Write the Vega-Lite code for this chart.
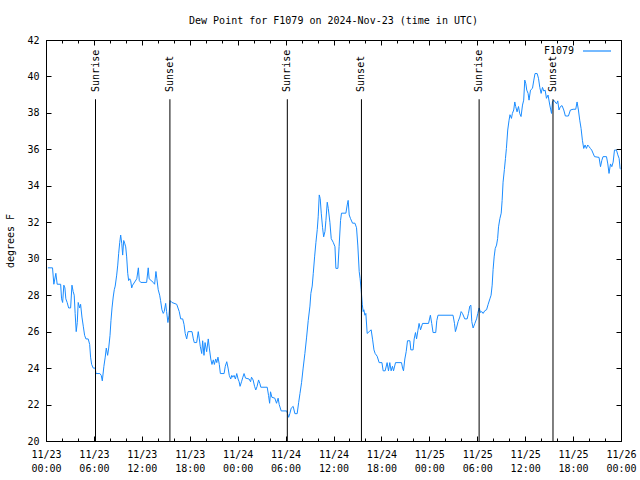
{
"$schema": "https://vega.github.io/schema/vega-lite/v6.json",
"width": 575,
"height": 401,
"autosize": {"type": "none"},
"padding": {"left": 46, "top": 40, "right": 19, "bottom": 39},
"background": "white",
"title": {"text": "Dew Point for F1079 on 2024-Nov-23 (time in UTC)", "font": "DejaVu Sans Mono", "fontSize": 10, "fontWeight": "normal", "color": "black", "offset": 9},
"config": {"view": {"stroke": "black", "strokeWidth": 1}},
"datasets": {
"sun": [
{"t":"2024-11-23T06:12:00Z","event":"Sunrise"},
{"t":"2024-11-23T15:31:00Z","event":"Sunset"},
{"t":"2024-11-24T06:13:00Z","event":"Sunrise"},
{"t":"2024-11-24T15:30:00Z","event":"Sunset"},
{"t":"2024-11-25T06:14:00Z","event":"Sunrise"},
{"t":"2024-11-25T15:29:00Z","event":"Sunset"}
],
"dew": [
{"t":"2024-11-23T00:14:00Z","v":29.5},{"t":"2024-11-23T00:49:00Z","v":29.5},{"t":"2024-11-23T00:59:00Z","v":28.6},{"t":"2024-11-23T01:14:00Z","v":29.2},{"t":"2024-11-23T01:24:00Z","v":28.6},{"t":"2024-11-23T01:50:00Z","v":28.6},{"t":"2024-11-23T01:57:00Z","v":27.8},{"t":"2024-11-23T02:05:00Z","v":27.6},{"t":"2024-11-23T02:14:00Z","v":28.55},{"t":"2024-11-23T02:22:00Z","v":28.4},{"t":"2024-11-23T02:29:00Z","v":27.8},{"t":"2024-11-23T02:39:00Z","v":27.6},{"t":"2024-11-23T02:50:00Z","v":27.3},{"t":"2024-11-23T03:05:00Z","v":27.3},{"t":"2024-11-23T03:15:00Z","v":28.55},{"t":"2024-11-23T03:24:00Z","v":28.2},{"t":"2024-11-23T03:32:00Z","v":28.0},{"t":"2024-11-23T03:39:00Z","v":27.0},{"t":"2024-11-23T03:47:00Z","v":26.0},{"t":"2024-11-23T03:55:00Z","v":26.5},{"t":"2024-11-23T04:02:00Z","v":27.6},{"t":"2024-11-23T04:13:00Z","v":27.3},{"t":"2024-11-23T04:20:00Z","v":27.5},{"t":"2024-11-23T04:30:00Z","v":26.8},{"t":"2024-11-23T04:40:00Z","v":26.3},{"t":"2024-11-23T04:50:00Z","v":25.8},{"t":"2024-11-23T05:00:00Z","v":25.6},{"t":"2024-11-23T05:17:00Z","v":25.6},{"t":"2024-11-23T05:28:00Z","v":25.3},{"t":"2024-11-23T05:35:00Z","v":24.6},{"t":"2024-11-23T05:43:00Z","v":24.2},{"t":"2024-11-23T05:55:00Z","v":24.0},{"t":"2024-11-23T06:10:00Z","v":24.0},{"t":"2024-11-23T06:15:00Z","v":23.7},{"t":"2024-11-23T06:45:00Z","v":23.7},{"t":"2024-11-23T06:55:00Z","v":23.6},{"t":"2024-11-23T07:03:00Z","v":23.3},{"t":"2024-11-23T07:15:00Z","v":24.1},{"t":"2024-11-23T07:25:00Z","v":24.6},{"t":"2024-11-23T07:33:00Z","v":25.1},{"t":"2024-11-23T07:43:00Z","v":24.7},{"t":"2024-11-23T07:51:00Z","v":25.1},{"t":"2024-11-23T08:01:00Z","v":25.8},{"t":"2024-11-23T08:08:00Z","v":26.6},{"t":"2024-11-23T08:16:00Z","v":27.3},{"t":"2024-11-23T08:25:00Z","v":27.9},{"t":"2024-11-23T08:33:00Z","v":28.3},{"t":"2024-11-23T08:40:00Z","v":28.5},{"t":"2024-11-23T08:51:00Z","v":29.1},{"t":"2024-11-23T08:59:00Z","v":29.65},{"t":"2024-11-23T09:06:00Z","v":30.3},{"t":"2024-11-23T09:14:00Z","v":30.9},{"t":"2024-11-23T09:21:00Z","v":31.3},{"t":"2024-11-23T09:29:00Z","v":30.85},{"t":"2024-11-23T09:36:00Z","v":30.2},{"t":"2024-11-23T09:44:00Z","v":31.0},{"t":"2024-11-23T09:51:00Z","v":30.85},{"t":"2024-11-23T09:59:00Z","v":30.65},{"t":"2024-11-23T10:06:00Z","v":30.1},{"t":"2024-11-23T10:14:00Z","v":29.2},{"t":"2024-11-23T10:21:00Z","v":28.8},{"t":"2024-11-23T10:29:00Z","v":28.9},{"t":"2024-11-23T10:36:00Z","v":28.8},{"t":"2024-11-23T10:44:00Z","v":28.4},{"t":"2024-11-23T10:51:00Z","v":28.55},{"t":"2024-11-23T11:22:00Z","v":28.9},{"t":"2024-11-23T11:34:00Z","v":29.5},{"t":"2024-11-23T11:41:00Z","v":28.8},{"t":"2024-11-23T11:52:00Z","v":28.7},{"t":"2024-11-23T12:36:00Z","v":28.7},{"t":"2024-11-23T12:48:00Z","v":29.5},{"t":"2024-11-23T12:55:00Z","v":28.9},{"t":"2024-11-23T13:26:00Z","v":28.7},{"t":"2024-11-23T13:36:00Z","v":28.6},{"t":"2024-11-23T13:46:00Z","v":29.3},{"t":"2024-11-23T13:53:00Z","v":28.9},{"t":"2024-11-23T14:03:00Z","v":28.3},{"t":"2024-11-23T14:14:00Z","v":28.0},{"t":"2024-11-23T14:21:00Z","v":27.7},{"t":"2024-11-23T14:31:00Z","v":27.2},{"t":"2024-11-23T14:41:00Z","v":27.0},{"t":"2024-11-23T14:48:00Z","v":27.1},{"t":"2024-11-23T14:59:00Z","v":27.55},{"t":"2024-11-23T15:06:00Z","v":27.1},{"t":"2024-11-23T15:16:00Z","v":26.5},{"t":"2024-11-23T15:24:00Z","v":26.9},{"t":"2024-11-23T15:33:00Z","v":27.7},{"t":"2024-11-23T15:46:00Z","v":27.6},{"t":"2024-11-23T16:22:00Z","v":27.5},{"t":"2024-11-23T16:41:00Z","v":27.1},{"t":"2024-11-23T16:52:00Z","v":26.7},{"t":"2024-11-23T17:07:00Z","v":26.7},{"t":"2024-11-23T17:17:00Z","v":26.4},{"t":"2024-11-23T17:26:00Z","v":25.9},{"t":"2024-11-23T17:37:00Z","v":25.6},{"t":"2024-11-23T17:47:00Z","v":26.0},{"t":"2024-11-23T18:17:00Z","v":26.0},{"t":"2024-11-23T18:27:00Z","v":25.6},{"t":"2024-11-23T18:34:00Z","v":25.4},{"t":"2024-11-23T18:52:00Z","v":25.4},{"t":"2024-11-23T19:04:00Z","v":26.0},{"t":"2024-11-23T19:12:00Z","v":25.6},{"t":"2024-11-23T19:19:00Z","v":25.2},{"t":"2024-11-23T19:30:00Z","v":24.8},{"t":"2024-11-23T19:37:00Z","v":25.5},{"t":"2024-11-23T19:47:00Z","v":24.7},{"t":"2024-11-23T19:55:00Z","v":25.4},{"t":"2024-11-23T20:07:00Z","v":24.9},{"t":"2024-11-23T20:19:00Z","v":25.6},{"t":"2024-11-23T20:27:00Z","v":25.1},{"t":"2024-11-23T20:38:00Z","v":24.5},{"t":"2024-11-23T20:47:00Z","v":24.2},{"t":"2024-11-23T20:57:00Z","v":24.45},{"t":"2024-11-23T21:05:00Z","v":24.2},{"t":"2024-11-23T21:15:00Z","v":24.5},{"t":"2024-11-23T21:23:00Z","v":24.3},{"t":"2024-11-23T21:32:00Z","v":24.6},{"t":"2024-11-23T21:42:00Z","v":24.2},{"t":"2024-11-23T21:50:00Z","v":23.7},{"t":"2024-11-23T22:18:00Z","v":23.7},{"t":"2024-11-23T22:27:00Z","v":24.1},{"t":"2024-11-23T22:38:00Z","v":24.35},{"t":"2024-11-23T22:48:00Z","v":24.0},{"t":"2024-11-23T22:57:00Z","v":23.6},{"t":"2024-11-23T23:08:00Z","v":23.4},{"t":"2024-11-23T23:16:00Z","v":23.6},{"t":"2024-11-23T23:23:00Z","v":23.5},{"t":"2024-11-23T23:33:00Z","v":23.6},{"t":"2024-11-23T23:43:00Z","v":23.4},{"t":"2024-11-23T23:53:00Z","v":23.7},
{"t":"2024-11-24T00:03:00Z","v":23.4},{"t":"2024-11-24T00:11:00Z","v":23.25},{"t":"2024-11-24T00:18:00Z","v":23.0},{"t":"2024-11-24T00:29:00Z","v":23.25},{"t":"2024-11-24T00:39:00Z","v":23.5},{"t":"2024-11-24T00:48:00Z","v":23.7},{"t":"2024-11-24T00:59:00Z","v":23.45},{"t":"2024-11-24T01:26:00Z","v":23.4},{"t":"2024-11-24T01:37:00Z","v":23.25},{"t":"2024-11-24T01:44:00Z","v":23.5},{"t":"2024-11-24T01:56:00Z","v":23.35},{"t":"2024-11-24T02:07:00Z","v":23.0},{"t":"2024-11-24T02:16:00Z","v":22.8},{"t":"2024-11-24T02:26:00Z","v":23.0},{"t":"2024-11-24T02:37:00Z","v":23.35},{"t":"2024-11-24T02:47:00Z","v":23.15},{"t":"2024-11-24T02:54:00Z","v":22.95},{"t":"2024-11-24T03:42:00Z","v":22.95},{"t":"2024-11-24T03:52:00Z","v":22.5},{"t":"2024-11-24T04:00:00Z","v":22.07},{"t":"2024-11-24T04:07:00Z","v":22.7},{"t":"2024-11-24T04:17:00Z","v":22.4},{"t":"2024-11-24T04:39:00Z","v":22.35},{"t":"2024-11-24T04:52:00Z","v":22.07},{"t":"2024-11-24T05:04:00Z","v":22.35},{"t":"2024-11-24T05:12:00Z","v":22.0},{"t":"2024-11-24T05:27:00Z","v":21.65},{"t":"2024-11-24T06:08:00Z","v":21.65},{"t":"2024-11-24T06:15:00Z","v":21.5},{"t":"2024-11-24T06:23:00Z","v":21.3},{"t":"2024-11-24T06:32:00Z","v":21.5},{"t":"2024-11-24T06:42:00Z","v":21.8},{"t":"2024-11-24T06:57:00Z","v":21.9},{"t":"2024-11-24T07:10:00Z","v":21.5},{"t":"2024-11-24T07:27:00Z","v":21.5},{"t":"2024-11-24T07:38:00Z","v":22.1},{"t":"2024-11-24T07:48:00Z","v":22.6},{"t":"2024-11-24T08:00:00Z","v":23.2},{"t":"2024-11-24T08:12:00Z","v":24.0},{"t":"2024-11-24T08:25:00Z","v":24.8},{"t":"2024-11-24T08:38:00Z","v":25.7},{"t":"2024-11-24T08:50:00Z","v":26.6},{"t":"2024-11-24T09:03:00Z","v":27.4},{"t":"2024-11-24T09:10:00Z","v":28.1},{"t":"2024-11-24T09:20:00Z","v":28.5},{"t":"2024-11-24T09:28:00Z","v":29.2},{"t":"2024-11-24T09:38:00Z","v":30.1},{"t":"2024-11-24T09:48:00Z","v":30.9},{"t":"2024-11-24T09:58:00Z","v":31.6},{"t":"2024-11-24T10:05:00Z","v":32.3},{"t":"2024-11-24T10:13:00Z","v":33.5},{"t":"2024-11-24T10:20:00Z","v":33.3},{"t":"2024-11-24T10:28:00Z","v":32.5},{"t":"2024-11-24T10:38:00Z","v":31.7},{"t":"2024-11-24T10:46:00Z","v":31.2},{"t":"2024-11-24T10:56:00Z","v":31.5},{"t":"2024-11-24T11:03:00Z","v":32.1},{"t":"2024-11-24T11:13:00Z","v":33.1},{"t":"2024-11-24T11:21:00Z","v":32.75},{"t":"2024-11-24T11:33:00Z","v":32.0},{"t":"2024-11-24T11:43:00Z","v":31.1},{"t":"2024-11-24T11:58:00Z","v":30.9},{"t":"2024-11-24T12:11:00Z","v":30.66},{"t":"2024-11-24T12:18:00Z","v":29.47},{"t":"2024-11-24T12:33:00Z","v":29.47},{"t":"2024-11-24T12:42:00Z","v":30.66},{"t":"2024-11-24T12:53:00Z","v":32.1},{"t":"2024-11-24T13:00:00Z","v":32.5},{"t":"2024-11-24T13:33:00Z","v":32.5},{"t":"2024-11-24T13:43:00Z","v":32.95},{"t":"2024-11-24T13:50:00Z","v":33.2},{"t":"2024-11-24T13:58:00Z","v":32.4},{"t":"2024-11-24T14:08:00Z","v":32.2},{"t":"2024-11-24T14:23:00Z","v":31.95},{"t":"2024-11-24T14:41:00Z","v":31.95},{"t":"2024-11-24T14:53:00Z","v":31.7},{"t":"2024-11-24T15:03:00Z","v":30.7},{"t":"2024-11-24T15:13:00Z","v":29.3},{"t":"2024-11-24T15:20:00Z","v":28.9},{"t":"2024-11-24T15:28:00Z","v":28.3},{"t":"2024-11-24T15:36:00Z","v":27.5},{"t":"2024-11-24T15:43:00Z","v":27.1},{"t":"2024-11-24T15:48:00Z","v":27.2},{"t":"2024-11-24T15:56:00Z","v":26.9},{"t":"2024-11-24T16:03:00Z","v":27.0},{"t":"2024-11-24T16:13:00Z","v":25.9},{"t":"2024-11-24T16:28:00Z","v":26.0},{"t":"2024-11-24T16:43:00Z","v":26.1},{"t":"2024-11-24T16:54:00Z","v":25.55},{"t":"2024-11-24T17:04:00Z","v":25.0},{"t":"2024-11-24T17:13:00Z","v":24.8},{"t":"2024-11-24T17:28:00Z","v":24.65},{"t":"2024-11-24T17:43:00Z","v":24.3},{"t":"2024-11-24T18:04:00Z","v":24.3},{"t":"2024-11-24T18:13:00Z","v":23.85},{"t":"2024-11-24T18:28:00Z","v":23.85},{"t":"2024-11-24T18:43:00Z","v":24.3},{"t":"2024-11-24T18:53:00Z","v":23.85},{"t":"2024-11-24T19:03:00Z","v":24.3},{"t":"2024-11-24T19:13:00Z","v":23.85},{"t":"2024-11-24T19:23:00Z","v":24.1},{"t":"2024-11-24T19:31:00Z","v":23.85},{"t":"2024-11-24T19:46:00Z","v":24.3},{"t":"2024-11-24T20:31:00Z","v":24.3},{"t":"2024-11-24T20:39:00Z","v":24.0},{"t":"2024-11-24T20:46:00Z","v":23.85},{"t":"2024-11-24T20:56:00Z","v":24.5},{"t":"2024-11-24T21:06:00Z","v":24.9},{"t":"2024-11-24T21:16:00Z","v":25.5},{"t":"2024-11-24T21:34:00Z","v":25.5},{"t":"2024-11-24T21:41:00Z","v":25.0},{"t":"2024-11-24T21:58:00Z","v":25.0},{"t":"2024-11-24T22:06:00Z","v":25.6},{"t":"2024-11-24T22:16:00Z","v":25.95},{"t":"2024-11-24T22:24:00Z","v":25.6},{"t":"2024-11-24T22:34:00Z","v":26.05},{"t":"2024-11-24T22:43:00Z","v":26.45},{"t":"2024-11-24T22:54:00Z","v":26.1},{"t":"2024-11-24T23:09:00Z","v":26.45},{"t":"2024-11-24T23:54:00Z","v":26.45},
{"t":"2024-11-25T00:08:00Z","v":26.9},{"t":"2024-11-25T00:18:00Z","v":26.45},{"t":"2024-11-25T00:28:00Z","v":25.95},{"t":"2024-11-25T00:48:00Z","v":25.95},{"t":"2024-11-25T00:56:00Z","v":26.6},{"t":"2024-11-25T01:05:00Z","v":26.9},{"t":"2024-11-25T02:58:00Z","v":26.9},{"t":"2024-11-25T03:09:00Z","v":26.45},{"t":"2024-11-25T03:16:00Z","v":26.0},{"t":"2024-11-25T03:24:00Z","v":26.2},{"t":"2024-11-25T03:36:00Z","v":26.55},{"t":"2024-11-25T03:49:00Z","v":26.8},{"t":"2024-11-25T03:59:00Z","v":27.1},{"t":"2024-11-25T04:09:00Z","v":27.0},{"t":"2024-11-25T04:26:00Z","v":26.7},{"t":"2024-11-25T04:44:00Z","v":26.7},{"t":"2024-11-25T04:54:00Z","v":27.0},{"t":"2024-11-25T05:04:00Z","v":27.4},{"t":"2024-11-25T05:12:00Z","v":27.45},{"t":"2024-11-25T05:19:00Z","v":26.55},{"t":"2024-11-25T05:29:00Z","v":26.2},{"t":"2024-11-25T05:42:00Z","v":26.45},{"t":"2024-11-25T05:55:00Z","v":26.7},{"t":"2024-11-25T06:04:00Z","v":27.0},{"t":"2024-11-25T06:14:00Z","v":27.3},{"t":"2024-11-25T06:25:00Z","v":27.05},{"t":"2024-11-25T06:34:00Z","v":27.1},{"t":"2024-11-25T06:44:00Z","v":27.0},{"t":"2024-11-25T06:57:00Z","v":27.15},{"t":"2024-11-25T07:10:00Z","v":27.2},{"t":"2024-11-25T07:22:00Z","v":27.5},{"t":"2024-11-25T07:35:00Z","v":27.8},{"t":"2024-11-25T07:44:00Z","v":28.0},{"t":"2024-11-25T07:52:00Z","v":28.55},{"t":"2024-11-25T07:59:00Z","v":29.4},{"t":"2024-11-25T08:07:00Z","v":30.1},{"t":"2024-11-25T08:15:00Z","v":30.56},{"t":"2024-11-25T08:25:00Z","v":30.75},{"t":"2024-11-25T08:33:00Z","v":31.1},{"t":"2024-11-25T08:40:00Z","v":31.75},{"t":"2024-11-25T08:50:00Z","v":32.2},{"t":"2024-11-25T09:00:00Z","v":32.5},{"t":"2024-11-25T09:07:00Z","v":33.2},{"t":"2024-11-25T09:14:00Z","v":34.2},{"t":"2024-11-25T09:24:00Z","v":34.9},{"t":"2024-11-25T09:32:00Z","v":35.5},{"t":"2024-11-25T09:39:00Z","v":36.05},{"t":"2024-11-25T09:49:00Z","v":37.06},{"t":"2024-11-25T09:59:00Z","v":37.6},{"t":"2024-11-25T10:06:00Z","v":37.9},{"t":"2024-11-25T10:17:00Z","v":37.7},{"t":"2024-11-25T10:24:00Z","v":37.97},{"t":"2024-11-25T10:34:00Z","v":38.16},{"t":"2024-11-25T10:42:00Z","v":38.6},{"t":"2024-11-25T10:49:00Z","v":38.35},{"t":"2024-11-25T10:59:00Z","v":38.06},{"t":"2024-11-25T11:10:00Z","v":38.35},{"t":"2024-11-25T11:19:00Z","v":37.97},{"t":"2024-11-25T11:29:00Z","v":37.8},{"t":"2024-11-25T11:40:00Z","v":38.43},{"t":"2024-11-25T11:49:00Z","v":38.7},{"t":"2024-11-25T11:57:00Z","v":39.8},{"t":"2024-11-25T12:05:00Z","v":39.6},{"t":"2024-11-25T12:12:00Z","v":39.25},{"t":"2024-11-25T12:22:00Z","v":39.07},{"t":"2024-11-25T12:29:00Z","v":38.7},{"t":"2024-11-25T12:40:00Z","v":39.25},{"t":"2024-11-25T12:55:00Z","v":39.35},{"t":"2024-11-25T13:05:00Z","v":39.8},{"t":"2024-11-25T13:14:00Z","v":40.16},{"t":"2024-11-25T13:30:00Z","v":40.16},{"t":"2024-11-25T13:40:00Z","v":39.9},{"t":"2024-11-25T13:50:00Z","v":39.4},{"t":"2024-11-25T14:00:00Z","v":39.07},{"t":"2024-11-25T14:10:00Z","v":39.4},{"t":"2024-11-25T14:20:00Z","v":39.2},{"t":"2024-11-25T14:30:00Z","v":39.25},{"t":"2024-11-25T14:40:00Z","v":38.8},{"t":"2024-11-25T14:52:00Z","v":38.98},{"t":"2024-11-25T15:05:00Z","v":38.43},{"t":"2024-11-25T15:18:00Z","v":37.97},{"t":"2024-11-25T15:25:00Z","v":38.6},{"t":"2024-11-25T15:35:00Z","v":38.7},{"t":"2024-11-25T15:45:00Z","v":38.6},{"t":"2024-11-25T15:56:00Z","v":38.5},{"t":"2024-11-25T16:05:00Z","v":38.66},{"t":"2024-11-25T16:14:00Z","v":38.16},{"t":"2024-11-25T16:25:00Z","v":38.35},{"t":"2024-11-25T16:37:00Z","v":38.4},{"t":"2024-11-25T16:50:00Z","v":38.16},{"t":"2024-11-25T17:02:00Z","v":37.83},{"t":"2024-11-25T17:25:00Z","v":37.83},{"t":"2024-11-25T17:40:00Z","v":38.16},{"t":"2024-11-25T18:00:00Z","v":38.2},{"t":"2024-11-25T18:20:00Z","v":38.2},{"t":"2024-11-25T18:30:00Z","v":38.6},{"t":"2024-11-25T18:40:00Z","v":38.16},{"t":"2024-11-25T18:50:00Z","v":37.6},{"t":"2024-11-25T19:00:00Z","v":37.15},{"t":"2024-11-25T19:10:00Z","v":36.5},{"t":"2024-11-25T19:20:00Z","v":36.05},{"t":"2024-11-25T19:30:00Z","v":36.24},{"t":"2024-11-25T19:40:00Z","v":36.05},{"t":"2024-11-25T19:50:00Z","v":36.24},{"t":"2024-11-25T20:00:00Z","v":36.15},{"t":"2024-11-25T20:10:00Z","v":36.05},{"t":"2024-11-25T20:20:00Z","v":35.96},{"t":"2024-11-25T20:41:00Z","v":35.6},{"t":"2024-11-25T21:15:00Z","v":35.56},{"t":"2024-11-25T21:26:00Z","v":35.05},{"t":"2024-11-25T21:36:00Z","v":35.4},{"t":"2024-11-25T21:45:00Z","v":35.6},{"t":"2024-11-25T22:11:00Z","v":35.6},{"t":"2024-11-25T22:21:00Z","v":35.2},{"t":"2024-11-25T22:30:00Z","v":34.68},{"t":"2024-11-25T22:41:00Z","v":35.2},{"t":"2024-11-25T22:51:00Z","v":35.05},{"t":"2024-11-25T23:01:00Z","v":35.3},{"t":"2024-11-25T23:11:00Z","v":35.96},{"t":"2024-11-25T23:26:00Z","v":35.96},{"t":"2024-11-25T23:36:00Z","v":35.7},{"t":"2024-11-25T23:46:00Z","v":35.5},{"t":"2024-11-25T23:53:00Z","v":34.96},{"t":"2024-11-25T23:59:00Z","v":34.9}
]
},
"layer": [
{
"data": {"name": "dew"},
"mark": {"type": "line", "strokeWidth": 1, "interpolate": "linear"},
"encoding": {
"x": {"field": "t", "type": "temporal",
"scale": {"type": "utc", "domain": [1732320000000, 1732579200000]},
"axis": {"orient": "bottom", "title": null, "grid": false, "domain": false,
"values": [1732320000000,1732341600000,1732363200000,1732384800000,1732406400000,1732428000000,1732449600000,1732471200000,1732492800000,1732514400000,1732536000000,1732557600000,1732579200000],
"labelExpr": "[utcFormat(datum.value, '%m/%d'), utcFormat(datum.value, '%H:%M')]",
"tickSize": -5, "tickColor": "black", "tickWidth": 1,
"labelFont": "DejaVu Sans Mono", "labelFontSize": 10, "labelColor": "black",
"labelPadding": 13, "labelOverlap": false, "labelFlush": false, "labelBound": false,
"labelAlign": "center", "labelBaseline": "top", "labelLineHeight": 14}},
"y": {"field": "v", "type": "quantitative",
"scale": {"domain": [20, 42], "nice": false, "zero": false},
"axis": {"orient": "left", "title": "degrees F", "grid": false, "domain": false,
"values": [20,22,24,26,28,30,32,34,36,38,40,42],
"tickSize": -5, "tickColor": "black", "tickWidth": 1,
"labelFont": "DejaVu Sans Mono", "labelFontSize": 10, "labelColor": "black",
"labelPadding": 12, "labelOverlap": false, "labelFlush": false,
"titleFont": "DejaVu Sans Mono", "titleFontSize": 10, "titleFontWeight": "normal", "titleColor": "black", "titlePadding": 11}},
"color": {"datum": "F1079", "type": "nominal",
"scale": {"range": ["#1a8cff"]},
"legend": {"orient": "none", "legendX": 536, "legendY": -4, "title": null,
"symbolType": "stroke", "symbolSize": 784, "symbolStrokeWidth": 1.2,
"labelFont": "DejaVu Sans Mono", "labelFontSize": 10, "labelColor": "black",
"labelAlign": "right", "labelOffset": -38, "padding": 0}}
}
},
{
"data": {"name": "sun"},
"mark": {"type": "rule", "color": "black", "strokeWidth": 1},
"encoding": {
"x": {"field": "t", "type": "temporal",
"axis": {"orient": "top", "title": null, "grid": false, "domain": false, "labels": false,
"values": [1732320000000,1732341600000,1732363200000,1732384800000,1732406400000,1732428000000,1732449600000,1732471200000,1732492800000,1732514400000,1732536000000,1732557600000,1732579200000],
"tickSize": -5, "tickColor": "black", "tickWidth": 1}},
"y": {"datum": 38.75, "type": "quantitative",
"axis": {"orient": "right", "title": null, "grid": false, "domain": false, "labels": false,
"values": [20,22,24,26,28,30,32,34,36,38,40,42],
"tickSize": -5, "tickColor": "black", "tickWidth": 1}},
"y2": {"datum": 20}
}
},
{
"data": {"name": "sun"},
"mark": {"type": "text", "angle": 270, "align": "left", "baseline": "middle", "font": "DejaVu Sans Mono", "fontSize": 10, "color": "black"},
"encoding": {
"x": {"field": "t", "type": "temporal",
"axis": {"orient": "bottom", "title": null, "grid": false, "domain": false, "labels": false,
"values": [1732320000000,1732327200000,1732334400000,1732341600000,1732348800000,1732356000000,1732363200000,1732370400000,1732377600000,1732384800000,1732392000000,1732399200000,1732406400000,1732413600000,1732420800000,1732428000000,1732435200000,1732442400000,1732449600000,1732456800000,1732464000000,1732471200000,1732478400000,1732485600000,1732492800000,1732500000000,1732507200000,1732514400000,1732521600000,1732528800000,1732536000000,1732543200000,1732550400000,1732557600000,1732564800000,1732572000000,1732579200000],
"tickSize": -3, "tickColor": "black", "tickWidth": 1}},
"y": {"datum": 39.15, "type": "quantitative", "axis": null},
"text": {"field": "event"}
}
},
{
"data": {"name": "sun"},
"mark": {"type": "rule", "opacity": 0},
"encoding": {
"x": {"field": "t", "type": "temporal",
"axis": {"orient": "top", "title": null, "grid": false, "domain": false, "labels": false,
"values": [1732320000000,1732327200000,1732334400000,1732341600000,1732348800000,1732356000000,1732363200000,1732370400000,1732377600000,1732384800000,1732392000000,1732399200000,1732406400000,1732413600000,1732420800000,1732428000000,1732435200000,1732442400000,1732449600000,1732456800000,1732464000000,1732471200000,1732478400000,1732485600000,1732492800000,1732500000000,1732507200000,1732514400000,1732521600000,1732528800000,1732536000000,1732543200000,1732550400000,1732557600000,1732564800000,1732572000000,1732579200000],
"tickSize": -3, "tickColor": "black", "tickWidth": 1}},
"y": {"datum": 30, "type": "quantitative", "axis": null}
}
}
],
"resolve": {"axis": {"x": "independent", "y": "independent"}}
}
